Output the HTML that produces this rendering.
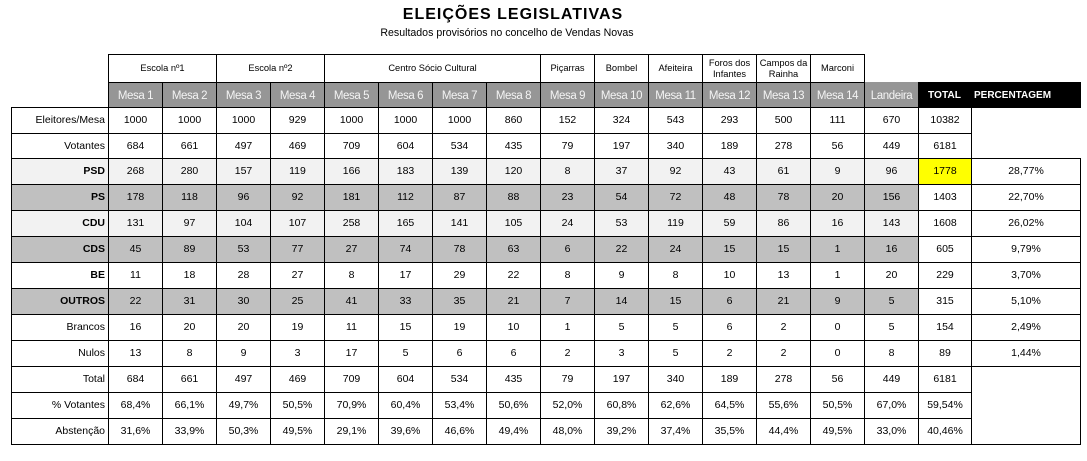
<!DOCTYPE html>
<html><head><meta charset="utf-8">
<style>
body{margin:0;background:#fff;width:1087px;height:461px;overflow:hidden;position:relative;font-family:"Liberation Sans",Arial,sans-serif;color:#000;}
.t{position:absolute;left:0;width:1026px;top:7px;text-align:center;font-weight:bold;font-size:16px;line-height:16px;letter-spacing:1px;white-space:nowrap;}
.st{position:absolute;left:0;width:1014px;top:28px;text-align:center;font-size:10.6px;line-height:11px;white-space:nowrap;}
.h1{position:absolute;left:108px;top:54px;height:28px;display:flex;}
.h1 span{box-sizing:border-box;border-left:1px solid #000;border-top:1px solid #000;height:28px;font-size:9.3px;text-align:center;display:flex;align-items:center;justify-content:center;line-height:11px;flex:none;}
.h2{position:absolute;left:108px;top:82px;height:25px;display:flex;}
.h2 span{display:block;box-sizing:border-box;border-left:1px solid #000;border-top:1px solid #000;height:25px;width:54px;background:#969696;color:#f4f4f4;font-size:11.5px;letter-spacing:-0.4px;text-align:center;line-height:26px;flex:none;white-space:nowrap;}
.h2 span.ld{border-top:none;padding-top:1px;}
.h2 span.tt{width:53px;background:#000;color:#fff;font-weight:bold;font-size:10.2px;letter-spacing:0;border:none;padding-top:1px;}
.h2 span.pc{width:110px;background:#000;color:#fff;font-weight:bold;font-size:10px;letter-spacing:0;border:none;text-align:left;padding-left:3px;padding-top:1px;}
.r{position:absolute;left:11px;display:flex;height:26px;}
.r span{display:block;box-sizing:border-box;border-left:1px solid #000;border-top:1px solid #000;height:100%;text-align:center;font-size:10.5px;line-height:25px;width:54px;flex:none;white-space:nowrap;}
.r span:first-child{width:97px;text-align:right;padding-right:3px;}
.lt span{background:#f2f2f2;}
.dk span{background:#c0c0c0;}
.b span:first-child{font-weight:bold;}
.r span:nth-child(17){width:53px;background:#fff;}
.r span:nth-child(18){width:110px;border-right:1px solid #000;background:#fff;}
.r span.y{background:#ffff00;}
.r span.nt{border-top:none;}
.r span.nr{border-right:none;}
.h25{height:25px;}
.h25 span{line-height:24px;}
.bot{position:absolute;left:11px;top:444px;width:1070px;height:1px;background:#000;}
</style></head><body>
<div class="t">ELEIÇÕES LEGISLATIVAS</div>
<div class="st">Resultados provisórios no concelho de Vendas Novas</div>

<div class="h1">
<span style="width:108px">Escola nº1</span>
<span style="width:108px">Escola nº2</span>
<span style="width:216px">Centro Sócio Cultural</span>
<span style="width:54px">Piçarras</span>
<span style="width:54px">Bombel</span>
<span style="width:54px">Afeiteira</span>
<span style="width:54px">Foros dos<br>Infantes</span>
<span style="width:54px">Campos da<br>Rainha</span>
<span style="width:55px;border-right:1px solid #000">Marconi</span>
</div>

<div class="h2">
<span>Mesa 1</span><span>Mesa 2</span><span>Mesa 3</span><span>Mesa 4</span><span>Mesa 5</span><span>Mesa 6</span><span>Mesa 7</span><span>Mesa 8</span><span>Mesa 9</span><span>Mesa 10</span><span>Mesa 11</span><span>Mesa 12</span><span>Mesa 13</span><span>Mesa 14</span><span class="ld">Landeira</span><span class="tt">TOTAL</span><span class="pc">PERCENTAGEM</span>
</div>

<div class="r" style="top:107px"><span>Eleitores/Mesa</span><span>1000</span><span>1000</span><span>1000</span><span>929</span><span>1000</span><span>1000</span><span>1000</span><span>860</span><span>152</span><span>324</span><span>543</span><span>293</span><span>500</span><span>111</span><span>670</span><span>10382</span><span class="nr"></span></div>
<div class="r h25" style="top:133px"><span>Votantes</span><span>684</span><span>661</span><span>497</span><span>469</span><span>709</span><span>604</span><span>534</span><span>435</span><span>79</span><span>197</span><span>340</span><span>189</span><span>278</span><span>56</span><span>449</span><span>6181</span><span class="nt nr"></span></div>
<div class="r lt b" style="top:158px"><span>PSD</span><span>268</span><span>280</span><span>157</span><span>119</span><span>166</span><span>183</span><span>139</span><span>120</span><span>8</span><span>37</span><span>92</span><span>43</span><span>61</span><span>9</span><span>96</span><span class="y">1778</span><span>28,77%</span></div>
<div class="r dk b" style="top:184px"><span>PS</span><span>178</span><span>118</span><span>96</span><span>92</span><span>181</span><span>112</span><span>87</span><span>88</span><span>23</span><span>54</span><span>72</span><span>48</span><span>78</span><span>20</span><span>156</span><span>1403</span><span>22,70%</span></div>
<div class="r lt b" style="top:210px"><span>CDU</span><span>131</span><span>97</span><span>104</span><span>107</span><span>258</span><span>165</span><span>141</span><span>105</span><span>24</span><span>53</span><span>119</span><span>59</span><span>86</span><span>16</span><span>143</span><span>1608</span><span>26,02%</span></div>
<div class="r dk b" style="top:236px"><span>CDS</span><span>45</span><span>89</span><span>53</span><span>77</span><span>27</span><span>74</span><span>78</span><span>63</span><span>6</span><span>22</span><span>24</span><span>15</span><span>15</span><span>1</span><span>16</span><span>605</span><span>9,79%</span></div>
<div class="r b" style="top:262px"><span>BE</span><span>11</span><span>18</span><span>28</span><span>27</span><span>8</span><span>17</span><span>29</span><span>22</span><span>8</span><span>9</span><span>8</span><span>10</span><span>13</span><span>1</span><span>20</span><span>229</span><span>3,70%</span></div>
<div class="r dk b" style="top:288px"><span>OUTROS</span><span>22</span><span>31</span><span>30</span><span>25</span><span>41</span><span>33</span><span>35</span><span>21</span><span>7</span><span>14</span><span>15</span><span>6</span><span>21</span><span>9</span><span>5</span><span>315</span><span>5,10%</span></div>
<div class="r" style="top:314px"><span>Brancos</span><span>16</span><span>20</span><span>20</span><span>19</span><span>11</span><span>15</span><span>19</span><span>10</span><span>1</span><span>5</span><span>5</span><span>6</span><span>2</span><span>0</span><span>5</span><span>154</span><span>2,49%</span></div>
<div class="r" style="top:340px"><span>Nulos</span><span>13</span><span>8</span><span>9</span><span>3</span><span>17</span><span>5</span><span>6</span><span>6</span><span>2</span><span>3</span><span>5</span><span>2</span><span>2</span><span>0</span><span>8</span><span>89</span><span>1,44%</span></div>
<div class="r" style="top:366px"><span>Total</span><span>684</span><span>661</span><span>497</span><span>469</span><span>709</span><span>604</span><span>534</span><span>435</span><span>79</span><span>197</span><span>340</span><span>189</span><span>278</span><span>56</span><span>449</span><span>6181</span><span></span></div>
<div class="r" style="top:392px"><span>% Votantes</span><span>68,4%</span><span>66,1%</span><span>49,7%</span><span>50,5%</span><span>70,9%</span><span>60,4%</span><span>53,4%</span><span>50,6%</span><span>52,0%</span><span>60,8%</span><span>62,6%</span><span>64,5%</span><span>55,6%</span><span>50,5%</span><span>67,0%</span><span>59,54%</span><span class="nt"></span></div>
<div class="r" style="top:418px"><span>Abstenção</span><span>31,6%</span><span>33,9%</span><span>50,3%</span><span>49,5%</span><span>29,1%</span><span>39,6%</span><span>46,6%</span><span>49,4%</span><span>48,0%</span><span>39,2%</span><span>37,4%</span><span>35,5%</span><span>44,4%</span><span>49,5%</span><span>33,0%</span><span>40,46%</span><span class="nt"></span></div>
<div class="bot"></div>
</body></html>
